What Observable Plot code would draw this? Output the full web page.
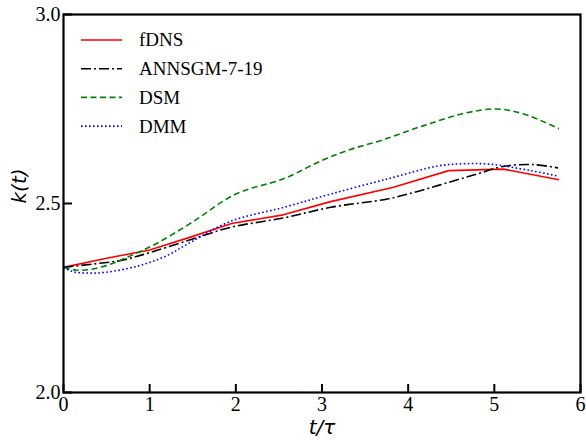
<!DOCTYPE html>
<html><head><meta charset="utf-8">
<script src="https://cdn.jsdelivr.net/npm/d3@7"></script>
<script src="https://cdn.jsdelivr.net/npm/@observablehq/plot@0.6"></script>
<style>
body{margin:0;background:#fff}
#chart{position:relative;width:586px;height:440px}
</style>
</head><body><div id="chart"></div>
<script>
// Data
const seriesNames = ["fDNS", "ANNSGM-7-19", "DSM", "DMM"];
const seriesColors = ["#ff0000", "#000000", "#008000", "#0000ff"];
const seriesDash = [null, "10,3,2,3", "6,3.5", "1.6,2.4"];

const fdnsT = [0, 0.5, 1.0, 1.5, 1.95, 2.55, 3.1, 3.83, 4.47, 5.1, 5.75];
const fdnsK = [2.331, 2.355, 2.377, 2.413, 2.447, 2.470, 2.505, 2.543, 2.587, 2.591, 2.563];

const annT = [0, 0.35, 0.68, 1.0, 1.47, 1.94, 2.56, 3.1, 3.76, 4.14, 4.47, 4.8, 5.1, 5.44, 5.74];
const annK = [2.331, 2.340, 2.350, 2.370, 2.404, 2.437, 2.462, 2.490, 2.512, 2.534, 2.556, 2.578, 2.598, 2.603, 2.594];

const dsmT = [0, 0.14, 0.3, 0.55, 0.8, 1.07, 1.49, 2.0, 2.56, 3.0, 3.33, 3.7, 4.18, 4.68, 5.03, 5.34, 5.75];
const dsmK = [2.331, 2.324, 2.325, 2.340, 2.364, 2.393, 2.450, 2.525, 2.566, 2.614, 2.643, 2.668, 2.706, 2.740, 2.750, 2.737, 2.698];

const dmmT = [0, 0.1, 0.26, 0.49, 0.87, 1.18, 1.48, 1.94, 2.56, 3.1, 3.76, 4.34, 4.61, 4.95, 5.42, 5.75];
const dmmK = [2.331, 2.320, 2.316, 2.318, 2.335, 2.360, 2.398, 2.453, 2.490, 2.525, 2.565, 2.599, 2.605, 2.604, 2.587, 2.572];

const xTicks = [0, 1, 2, 3, 4, 5, 6];
const yTicks = [2.0, 2.5, 3.0];
const xLabel = "t/τ";
const yLabel = "k(t)";

const toRows = (ts, ks) => ts.map((t, i) => ({t, k: ks[i]}));
const series = [toRows(fdnsT, fdnsK), toRows(annT, annK), toRows(dsmT, dsmK), toRows(dmmT, dmmK)];
const curves = ["linear", "catmull-rom", "catmull-rom", "catmull-rom"];

const lineMarks = series.map((rows, i) => Plot.line(rows, {
  x: "t", y: "k", stroke: seriesColors[i], strokeWidth: 1.6,
  strokeDasharray: seriesDash[i] ?? undefined, curve: curves[i], strokeLinecap: "butt"
}));

const serif = "'Times New Roman', 'Liberation Serif', 'DejaVu Serif', serif";
const italicSans = "'DejaVu Sans', sans-serif";

const chart = Plot.plot({
  width: 586, height: 440,
  marginLeft: 63, marginRight: 6, marginTop: 14, marginBottom: 48,
  x: {domain: [0, 6]},
  y: {domain: [2, 3]},
  style: {color: "#000", background: "#fff", overflow: "visible"},
  marks: [
    ...lineMarks,
    Plot.axisX({ticks: xTicks, tickSize: -8, tickPadding: 12, tickFormat: d3.format("d"), label: null, strokeWidth: 2, fontSize: 20, fontFamily: serif}),
    Plot.axisY({ticks: yTicks, tickSize: -9, tickPadding: 12, tickFormat: d3.format(".1f"), label: null, strokeWidth: 2, fontSize: 20, fontFamily: serif}),
    Plot.frame({stroke: "#000", strokeWidth: 2.2}),
    Plot.text([xLabel], {frameAnchor: "bottom", dy: 35, text: d => d, fontSize: 20, fontStyle: "italic", fontFamily: italicSans, lineAnchor: "middle"}),
    Plot.text([yLabel], {frameAnchor: "left", dx: -44, rotate: -90, text: d => d, fontSize: 20, fontStyle: "italic", fontFamily: italicSans, lineAnchor: "middle"})
  ]
});

document.getElementById("chart").appendChild(chart);
const svg = d3.select(chart);

// Re-create the tick label nodes (same attributes, same place) with the serif font
svg.selectAll("g[aria-label$='tick label']").each(function() {
  const g = this;
  g.setAttribute("font-family", serif);
  g.setAttribute("font-size", 20);
  g.style.fontFamily = serif;
  g.style.fontSize = "20px";
  Array.from(g.querySelectorAll("text")).forEach(old => {
    const nt = document.createElementNS("http://www.w3.org/2000/svg", "text");
    for (const name of old.getAttributeNames()) {
      if (name !== "style" && name !== "font-variant") nt.setAttribute(name, old.getAttribute(name));
    }
    nt.setAttribute("font-family", serif);
    nt.setAttribute("font-size", 20);
    nt.style.fontFamily = serif;
    nt.style.fontSize = "20px";
    nt.style.fontVariant = "normal";
    nt.textContent = old.textContent;
    old.parentNode.replaceChild(nt, old);
  });
});

// Legend (top-left, inside the frame)
const lg = svg.append("g");
seriesNames.forEach((name, i) => {
  const y = 40 + i * 28.7;
  lg.append("line").attr("x1", 81).attr("x2", 122).attr("y1", y).attr("y2", y)
    .attr("stroke", seriesColors[i]).attr("stroke-width", 1.6)
    .attr("stroke-dasharray", seriesDash[i]);
  lg.append("text").attr("x", 139).attr("y", y).attr("dy", "0.34em")
    .attr("text-anchor", "start").style("font-size", "19px").style("font-family", serif)
    .attr("fill", "#000").text(name);
});
</script>
</body></html>
